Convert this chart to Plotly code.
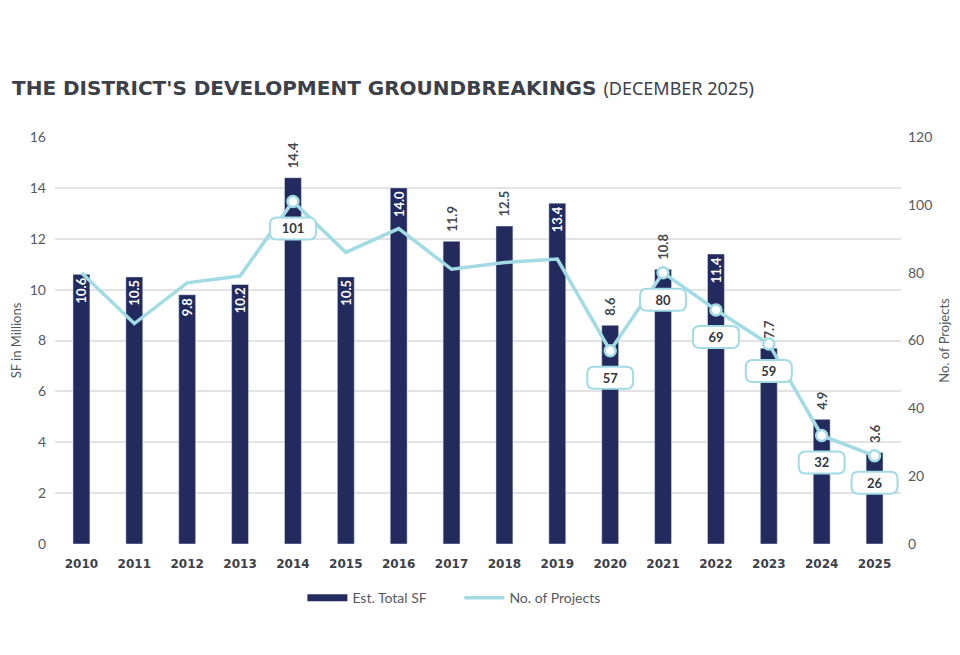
import plotly.graph_objects as go

years = ["2010", "2011", "2012", "2013", "2014", "2015", "2016", "2017",
         "2018", "2019", "2020", "2021", "2022", "2023", "2024", "2025"]
sf_millions = [10.6, 10.5, 9.8, 10.2, 14.4, 10.5, 14.0, 11.9,
               12.5, 13.4, 8.6, 10.8, 11.4, 7.7, 4.9, 3.6]
projects = [80, 65, 77, 79, 101, 86, 93, 81, 83, 84, 57, 80, 69, 59, 32, 26]
labeled_years = ["2014", "2020", "2021", "2022", "2023", "2024", "2025"]
bar_label_pos = ["inside", "inside", "inside", "inside", "outside", "inside", "inside", "outside",
                 "outside", "inside", "outside", "outside", "inside", "outside", "outside", "outside"]
left_ticks = [0, 2, 4, 6, 8, 10, 12, 14, 16]
right_ticks = [0, 20, 40, 60, 80, 100, 120]

NAVY = "#232b5e"
LIGHT = "#a3dbe5"
GRID = "#e3e3e3"
TXT = "#555a60"
DARK = "#3c4049"
FONT = "Lato"

fig = go.Figure()

bar_text = [("\u2002" + f"{v:.1f}") if p == "outside" else f"{v:.1f}"
            for v, p in zip(sf_millions, bar_label_pos)]
fig.add_trace(go.Bar(
    x=years, y=sf_millions, name="Est. Total SF", marker_color=NAVY,
    width=0.32, text=bar_text, textposition=bar_label_pos,
    textangle=-90, insidetextanchor="end", constraintext="none",
    insidetextfont=dict(color="white", size=13, family=FONT, weight="bold"),
    outsidetextfont=dict(color="#44484e", size=13, family=FONT, weight="bold"),
    cliponaxis=False, showlegend=False, yaxis="y"))

fig.add_trace(go.Scatter(
    x=years, y=projects, mode="lines", name="No. of Projects",
    line=dict(color=LIGHT, width=3.5), yaxis="y2", showlegend=False))

lab_x = [y for y in years if y in labeled_years]
lab_y = [p for y, p in zip(years, projects) if y in labeled_years]
fig.add_trace(go.Scatter(
    x=lab_x, y=lab_y, mode="markers", yaxis="y2", showlegend=False,
    marker=dict(size=11, color="white", line=dict(color=LIGHT, width=2.5))))

# legend entries
fig.add_trace(go.Scatter(x=[years[0]], y=[None], mode="lines", name="Est. Total SF",
                         line=dict(color=NAVY, width=7)))
fig.add_trace(go.Scatter(x=[years[0]], y=[None], mode="lines", name="No. of Projects",
                         line=dict(color=LIGHT, width=3.5)))

# rounded label boxes below points
w, top, bot, r = 23, -16, -38, 7
path = (f"M {-w + r},{top} L {w - r},{top} Q {w},{top} {w},{top - r} "
        f"L {w},{bot + r} Q {w},{bot} {w - r},{bot} L {-w + r},{bot} "
        f"Q {-w},{bot} {-w},{bot + r} L {-w},{top - r} Q {-w},{top} {-w + r},{top} Z")
for x, v in zip(lab_x, lab_y):
    fig.add_shape(type="path", xref="x", yref="y2", xsizemode="pixel", ysizemode="pixel",
                  xanchor=years.index(x), yanchor=v, path=path, fillcolor="white",
                  line=dict(color=LIGHT, width=2), layer="above",
                  label=dict(text=str(v), textposition="middle center",
                             font=dict(size=13, color="#33373d", family=FONT, weight="bold")))

# page body adds an 8px offset; figure sized/margined to compensate
fig.update_layout(
    width=952, height=647, paper_bgcolor="white", plot_bgcolor="white",
    margin=dict(l=47, r=59, t=129, b=111, autoexpand=False),
    font=dict(family=FONT, color=TXT, size=13),
    title=dict(
        text="THE DISTRICT'S DEVELOPMENT GROUNDBREAKINGS <span style='font-weight:400;font-size:18px;font-family:Noto Sans'>(DECEMBER 2025)</span>",
        x=4 / 952, xref="container", xanchor="left", y=1 - 80 / 647, yref="container", yanchor="middle",
        pad=dict(l=0, r=0, t=0, b=0),
        font=dict(family="DejaVu Sans", size=20, color=DARK, weight="bold")),
    bargap=0.68,
    hovermode=False,
    xaxis=dict(type="category", range=[-0.5, 15.5], showgrid=False, showline=False, zeroline=False,
               ticklabelstandoff=11,
               tickfont=dict(size=12, color=DARK, family="DejaVu Sans", weight="bold")),
    yaxis=dict(range=[0, 16], tickvals=left_ticks, showgrid=True, gridcolor=GRID, gridwidth=1.5,
               zeroline=False, showline=False, tickfont=dict(size=14, color=TXT),
               ticklabelstandoff=8,
               title=dict(text="SF in Millions", font=dict(size=13, color=TXT), standoff=6)),
    yaxis2=dict(range=[0, 120], tickvals=right_ticks, overlaying="y", side="right", showgrid=False,
                zeroline=False, showline=False, tickfont=dict(size=14, color=TXT),
                ticklabelstandoff=6,
                title=dict(text="No. of Projects", font=dict(size=13, color=TXT), standoff=8)),
    legend=dict(orientation="h", x=0.478, xanchor="center", y=-0.133, yanchor="middle",
                font=dict(size=14, color=TXT), itemwidth=40, entrywidth=102),
)

fig.write_html("out.html")
